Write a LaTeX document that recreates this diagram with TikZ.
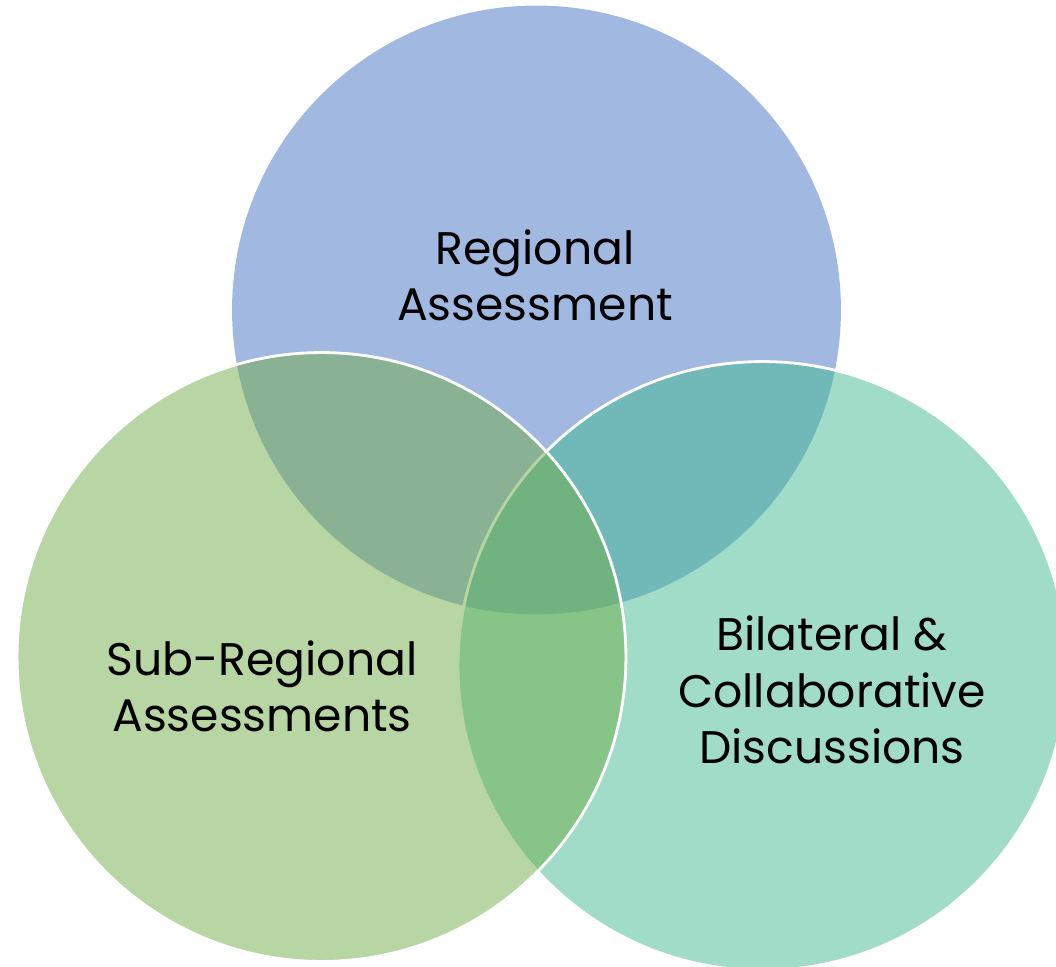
\documentclass[tikz,border=0pt]{standalone}
\usepackage{fontspec}
\setmainfont{Poppins}
\usepackage{xcolor}
\usepackage{tikz}
\usetikzlibrary{shapes,positioning}

\definecolor{regblue}{RGB}{68,114,196}
\definecolor{subgreen}{RGB}{112,173,71}
\definecolor{bilteal}{RGB}{65,185,145}

\begin{document}
\begin{tikzpicture}[
    x=0.02cm, y=-0.02cm,
    ring/.style={circle, inner sep=0pt, minimum size=12.18cm, fill opacity=0.5, line width=1.6pt},
    venntext/.style={align=center, font=\fontsize{26}{32}\selectfont, inner sep=0pt}
]
    \useasboundingbox (0,0) rectangle (1056,967);
    \clip (0,0) rectangle (1056,967);

    % Circles
    \node[ring, fill=regblue] (regional) at (536.5,310) {};
    \node[ring, fill=bilteal, draw=white, draw opacity=1] (bilateral) at (762.5,666) {};
    \node[ring, fill=subgreen, draw=white, draw opacity=1] (subregional) at (321.5,657) {};

    % Labels
    \node[venntext] (regionaltxt) at (535,275) {Regional\\Assessment};
    \node[venntext] (subregionaltxt) at (262,686) {Sub-Regional\\Assessments};
    \node[venntext] (bilateraltxt) at (832,690) {Bilateral \&\\Collaborative\\Discussions};
\end{tikzpicture}
\end{document}
